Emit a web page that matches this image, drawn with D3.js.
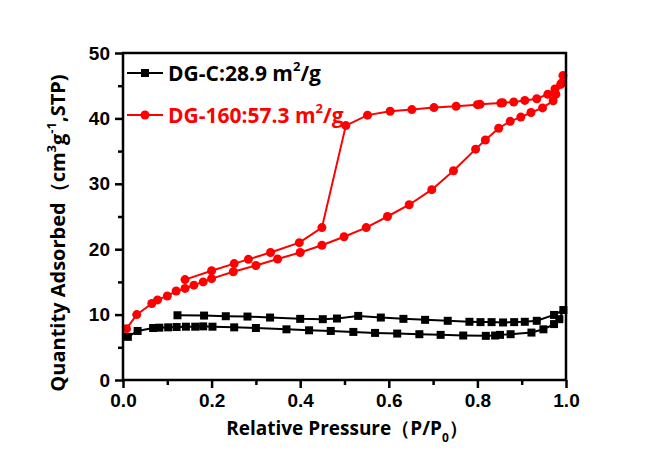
<!DOCTYPE html>
<html>
<head>
<meta charset="utf-8">
<script src="https://cdn.jsdelivr.net/npm/d3@7"></script>
<style>
  body { margin: 0; background: #fff; }
  text { font-family: "Liberation Sans", Arial, sans-serif; }
</style>
</head>
<body>
<svg width="645" height="450"></svg>
<script>
// DG-C, adsorption then desorption branch
var dgcP = [0.011, 0.033, 0.068, 0.082, 0.102, 0.121, 0.142, 0.163, 0.181, 0.202, 0.251, 0.30, 0.369, 0.42, 0.469, 0.52, 0.569, 0.619, 0.669, 0.717, 0.768, 0.819, 0.84, 0.851, 0.875, 0.922, 0.949, 0.973, 0.985, 0.994,
            0.973, 0.934, 0.907, 0.883, 0.858, 0.832, 0.807, 0.782, 0.733, 0.682, 0.633, 0.582, 0.531, 0.483, 0.451, 0.40, 0.332, 0.281, 0.232, 0.183, 0.123];
var dgcV = [6.6, 7.5, 7.95, 8.0, 8.05, 8.1, 8.15, 8.15, 8.2, 8.15, 8.05, 7.95, 7.75, 7.6, 7.5, 7.35, 7.2, 7.1, 7.0, 6.9, 6.8, 6.75, 6.8, 6.9, 7.0, 7.25, 7.75, 8.55, 9.3, 10.7,
            9.95, 9.05, 8.9, 8.85, 8.8, 8.85, 8.85, 8.9, 9.05, 9.2, 9.35, 9.55, 9.8, 9.4, 9.3, 9.35, 9.55, 9.7, 9.75, 9.85, 9.9];

// DG-160, adsorption then desorption branch
var dg160P = [0.008, 0.031, 0.065, 0.078, 0.10, 0.12, 0.14, 0.16, 0.181, 0.20, 0.249, 0.30, 0.349, 0.40, 0.449, 0.499, 0.549, 0.597, 0.646, 0.697, 0.746, 0.796, 0.818, 0.848, 0.874, 0.898, 0.921, 0.947, 0.971, 0.977, 0.988, 0.993,
              0.990, 0.975, 0.959, 0.934, 0.907, 0.882, 0.857, 0.853, 0.806, 0.80, 0.752, 0.702, 0.652, 0.603, 0.552, 0.503, 0.449, 0.398, 0.333, 0.283, 0.251, 0.20, 0.14];
var dg160V = [7.85, 10.0, 11.7, 12.25, 12.85, 13.6, 14.0, 14.5, 15.0, 15.5, 16.55, 17.5, 18.5, 19.5, 20.6, 21.9, 23.3, 25.0, 26.8, 29.1, 32.0, 35.3, 36.7, 38.5, 39.55, 40.2, 40.9, 41.6, 42.7, 43.7, 45.2, 46.55,
              45.4, 44.5, 43.7, 43.0, 42.75, 42.5, 42.4, 42.35, 42.15, 42.1, 41.85, 41.65, 41.35, 41.1, 40.5, 38.9, 23.3, 21.0, 19.5, 18.45, 17.8, 16.7, 15.35];

var xTicks = [0, 0.2, 0.4, 0.6, 0.8, 1.0];
var yTicks = [0, 10, 20, 30, 40, 50];

var svg = d3.select("svg");

var x = d3.scaleLinear().domain([0, 1]).range([123, 566]);
var y = d3.scaleLinear().domain([0, 50]).range([380, 53]);

function pts(ps, vs) {
    return ps.map(function(p, i) { return [p, vs[i]]; });
}
var dgc = pts(dgcP, dgcV),
    dg160 = pts(dg160P, dg160V);

var line = d3.line()
    .x(function(d) { return x(d[0]); })
    .y(function(d) { return y(d[1]); });

// series
svg.append("path").datum(dgc)
    .attr("d", line).attr("fill", "none").attr("stroke", "#000").attr("stroke-width", 2);
svg.selectAll("rect.dgc").data(dgc).enter().append("rect")
    .attr("class", "dgc")
    .attr("x", function(d) { return x(d[0]) - 4; })
    .attr("y", function(d) { return y(d[1]) - 4; })
    .attr("width", 8).attr("height", 8).attr("fill", "#000");

svg.append("path").datum(dg160)
    .attr("d", line).attr("fill", "none").attr("stroke", "#ff0000").attr("stroke-width", 2);
svg.selectAll("circle.dg160").data(dg160).enter().append("circle")
    .attr("class", "dg160")
    .attr("cx", function(d) { return x(d[0]); })
    .attr("cy", function(d) { return y(d[1]); })
    .attr("r", 4.5).attr("fill", "#ff0000");

// frame
svg.append("rect")
    .attr("x", 123).attr("y", 53).attr("width", 443).attr("height", 327)
    .attr("fill", "none").attr("stroke", "#000").attr("stroke-width", 2.5);

// axes
var xAxis = svg.append("g").attr("transform", "translate(0,380)");
xAxis.call(d3.axisBottom(x).tickValues(d3.range(0.1, 1, 0.2)).tickSize(5).tickFormat(""));
xAxis.append("g").call(d3.axisBottom(x).tickValues(xTicks).tickSize(8).tickPadding(6).tickFormat(d3.format(".1f")));

var yAxis = svg.append("g").attr("transform", "translate(123,0)");
yAxis.call(d3.axisLeft(y).tickValues(d3.range(5, 50, 10)).tickSize(5).tickFormat(""));
yAxis.append("g").call(d3.axisLeft(y).tickValues(yTicks).tickSize(8).tickPadding(5));

svg.selectAll(".domain").attr("stroke", "none");
svg.selectAll(".tick line").attr("stroke", "#000").attr("stroke-width", 2.5);
svg.selectAll(".tick text")
    .attr("fill", "#000")
    .style("font-size", "19px")
    .style("font-weight", "bold")
    .style("font-family", "'Liberation Sans', Arial, sans-serif");

// axis titles
var xt = svg.append("text")
    .attr("x", 347).attr("y", 435)
    .attr("text-anchor", "middle")
    .style("font-family", "'Open Sans', sans-serif")
    .style("font-weight", "bold").style("font-size", "19px");
xt.append("tspan").text("Relative Pressure（P/P");
xt.append("tspan").attr("dy", 7).style("font-size", "12px").text("0");
xt.append("tspan").attr("dy", -7).text("）");

var yt = svg.append("text")
    .attr("transform", "translate(65,233) rotate(-90)")
    .attr("text-anchor", "middle")
    .style("font-family", "'Open Sans', sans-serif")
    .style("font-weight", "bold").style("font-size", "20px");
yt.append("tspan").text("Quantity Adsorbed（cm");
yt.append("tspan").attr("dy", -9).style("font-size", "13px").text("3");
yt.append("tspan").attr("dy", 9).text("g");
yt.append("tspan").attr("dy", -9).style("font-size", "13px").text("-1");
yt.append("tspan").attr("dy", 9).text(",STP)");

// legend
var legend = [
    { name: "DG-C:28.9 m", color: "#000", y: 73, shape: "square" },
    { name: "DG-160:57.3 m", color: "#ff0000", y: 115, shape: "circle" }
];
legend.forEach(function(l) {
    svg.append("line")
        .attr("x1", 127).attr("x2", 163).attr("y1", l.y).attr("y2", l.y)
        .attr("stroke", l.color).attr("stroke-width", 2);
    if (l.shape === "square") {
        svg.append("rect").attr("x", 141).attr("y", l.y - 4).attr("width", 8).attr("height", 8).attr("fill", l.color);
    } else {
        svg.append("circle").attr("cx", 145).attr("cy", l.y).attr("r", 4.5).attr("fill", l.color);
    }
    var t = svg.append("text")
        .attr("x", 168).attr("y", l.y + 8)
        .attr("fill", l.color)
        .style("font-family", "'Open Sans', sans-serif")
        .style("font-weight", "bold").style("font-size", "21px");
    t.append("tspan").text(l.name);
    t.append("tspan").attr("dy", -10).style("font-size", "13px").text("2");
    t.append("tspan").attr("dy", 10).text("/g");
});
</script>
</body>
</html>
